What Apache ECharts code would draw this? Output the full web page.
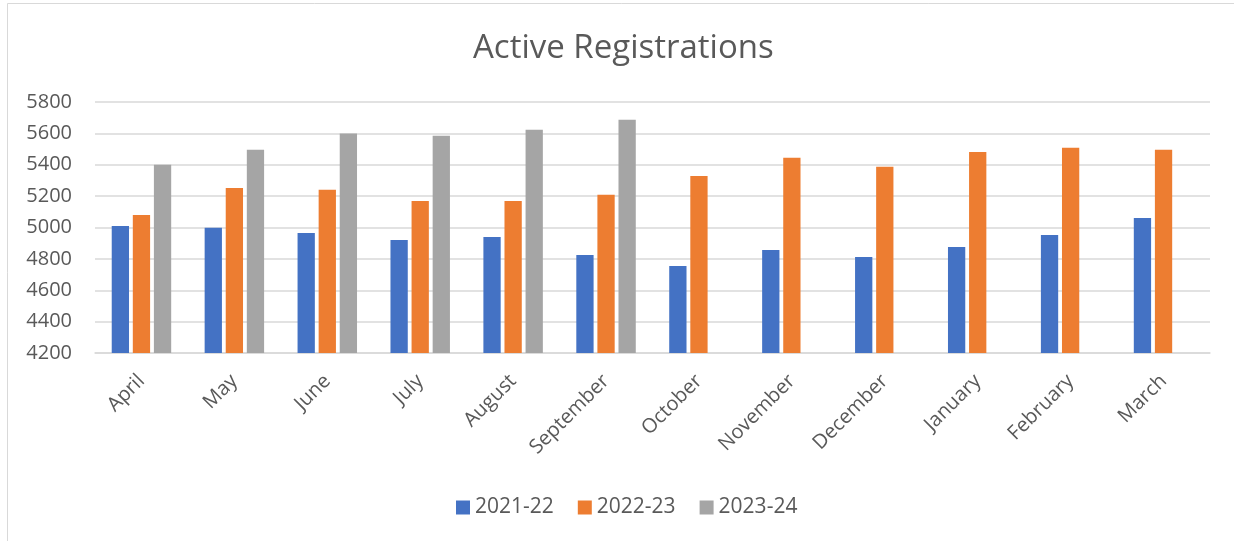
<!DOCTYPE html>
<html>
<head>
<meta charset="utf-8">
<script src="https://cdn.jsdelivr.net/npm/echarts@6/dist/echarts.min.js"></script>
<style>
html,body{margin:0;padding:0;background:#fff;}
#c{width:1234px;height:541px;}
</style>
</head>
<body>
<div id="c"></div>
<script>
const months = ['April','May','June','July','August','September','October','November','December','January','February','March'];
const s2122 = [5010,4998,4965,4920,4940,4825,4755,4856,4812,4876,4952,5061];
const s2223 = [5080,5252,5240,5169,5169,5208,5329,5444,5387,5482,5508,5495];
const s2324 = [5400,5495,5600,5585,5623,5687,null,null,null,null,null,null];
const seriesNames = ['2021-22','2022-23','2023-24'];
const yTicks = {min:4200,max:5800,interval:200};

const chart = echarts.init(document.getElementById('c'));
const font = '"Open Sans", "Liberation Sans", sans-serif';
chart.setOption({
  backgroundColor:'#fff',
  animation:false,
  graphic:[{type:'rect',shape:{x:7.5,y:3.5,width:1240,height:560},style:{fill:'none',stroke:'#d9d9d9',lineWidth:1}}],
  title:{text:'Active Registrations',left:468,top:27,textStyle:{fontFamily:font,fontSize:33,fontWeight:'normal',color:'#595959'}},
  color:['#4472C4','#ED7D31','#A5A5A5'],
  legend:{data:seriesNames,bottom:18,left:451,itemWidth:14,itemHeight:14,itemGap:24,icon:'rect',
    textStyle:{fontFamily:font,fontSize:21,color:'#595959'}},
  grid:{left:95,right:24,top:102,bottom:188},
  xAxis:{type:'category',data:months,
    axisLine:{lineStyle:{color:'#d9d9d9',width:1.5}},axisTick:{show:false},
    axisLabel:{rotate:45,fontFamily:font,fontSize:20,color:'#595959',margin:25,interval:0}},
  yAxis:{type:'value',min:yTicks.min,max:yTicks.max,interval:yTicks.interval,
    axisLine:{show:false},axisTick:{show:false},
    splitLine:{lineStyle:{color:'#d9d9d9',width:1.5}},
    axisLabel:{fontFamily:font,fontSize:20,color:'#595959',margin:23,formatter:v=>String(v)}},
  series:seriesNames.map((n,i)=>({name:n,type:'bar',data:[s2122,s2223,s2324][i],barGap:'22%',barCategoryGap:'36%'}))
});
</script>
</body>
</html>
